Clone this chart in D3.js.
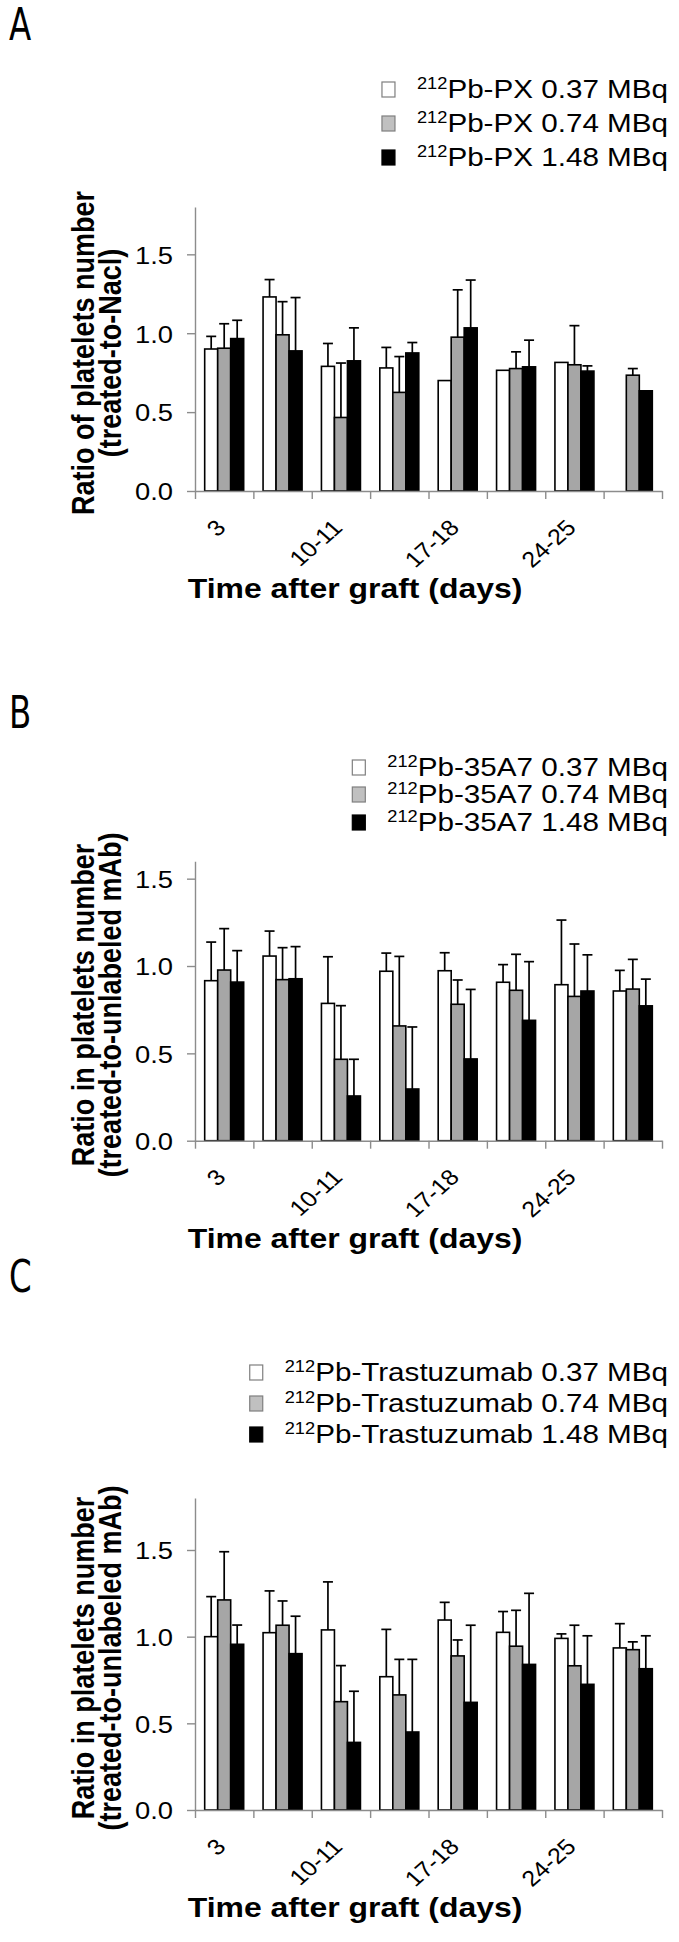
<!DOCTYPE html>
<html>
<head>
<meta charset="utf-8">
<script src="https://cdn.jsdelivr.net/npm/d3@7"></script>
<style>
  html, body { margin: 0; padding: 0; background: #fff; }
  svg { display: block; }
</style>
</head>
<body>
<div id="chart"></div>
<script>
// platelets ratio, three panels (PX, 35A7, Trastuzumab)

const timeLabels = ["3", "", "10-11", "", "17-18", "", "24-25", ""];
const doseLabels = ["0.37 MBq", "0.74 MBq", "1.48 MBq"];
const yTicks = [0, 0.5, 1.0, 1.5];

// A: 212Pb-PX, ratio treated-to-NaCl (mean, upper SD)
const pxLow = [0.90, 1.23, 0.79, 0.78, 0.70, 0.765, 0.815, null];
const pxLowSD = [0.08, 0.11, 0.145, 0.13, null, null, null, null];
const pxMid = [0.905, 0.99, 0.466, 0.625, 0.975, 0.776, 0.80, 0.734];
const pxMidSD = [0.155, 0.21, 0.345, 0.227, 0.30, 0.106, 0.248, 0.042];
const pxHigh = [0.966, 0.888, 0.825, 0.875, 1.034, 0.787, 0.76, 0.635];
const pxHighSD = [0.116, 0.338, 0.209, 0.066, 0.303, 0.169, 0.033, null];

// B: 212Pb-35A7, ratio treated-to-unlabeled mAb
const a7Low = [0.916, 1.057, 0.786, 0.97, 0.973, 0.907, 0.893, 0.857];
const a7LowSD = [0.221, 0.143, 0.267, 0.104, 0.103, 0.101, 0.37, 0.118];
const a7Mid = [0.977, 0.922, 0.466, 0.657, 0.781, 0.861, 0.826, 0.868];
const a7MidSD = [0.237, 0.183, 0.307, 0.398, 0.139, 0.206, 0.30, 0.17];
const a7High = [0.908, 0.927, 0.256, 0.296, 0.468, 0.689, 0.857, 0.772];
const a7HighSD = [0.18, 0.184, 0.21, 0.355, 0.398, 0.336, 0.207, 0.153];

// C: 212Pb-Trastuzumab, ratio treated-to-unlabeled mAb
const trLow = [1.0, 1.023, 1.039, 0.769, 1.096, 1.025, 0.99, 0.935];
const trLowSD = [0.231, 0.241, 0.277, 0.273, 0.102, 0.12, 0.026, 0.14];
const trMid = [1.212, 1.066, 0.625, 0.664, 0.889, 0.945, 0.832, 0.925];
const trMidSD = [0.278, 0.14, 0.208, 0.205, 0.092, 0.207, 0.234, 0.045];
const trHigh = [0.956, 0.902, 0.39, 0.45, 0.621, 0.84, 0.725, 0.815];
const trHighSD = [0.111, 0.216, 0.295, 0.419, 0.445, 0.41, 0.28, 0.19];

const W = 679, H = 1942;
const SX = 1.14; // text in the figure is stretched sideways
const FONT = "'Liberation Sans', Arial, sans-serif";
const barFill = ["#ffffff", "#a6a6a6", "#000000"];
const keyFill = ["#ffffff", "#c0c0c0", "#000000"];
const keyStroke = ["#7f7f7f", "#7f7f7f", "#000000"];
const axisColor = "#8c8c8c";

const panels = [
  { letter: "A", letterY: 40, agent: "PX", yMax: 1.8, y0: 491, yTop: 207,
    legendY: [89, 123, 157],
    title: ["Ratio of platelets number", "(treated-to-Nacl)"],
    series: [[pxLow, pxLowSD], [pxMid, pxMidSD], [pxHigh, pxHighSD]] },
  { letter: "B", letterY: 728, agent: "35A7", yMax: 1.6, y0: 1140.7, yTop: 861.2,
    legendY: [767, 794, 822],
    title: ["Ratio in platelets number", "(treated-to-unlabeled mAb)"],
    series: [[a7Low, a7LowSD], [a7Mid, a7MidSD], [a7High, a7HighSD]] },
  { letter: "C", letterY: 1292, agent: "Trastuzumab", yMax: 1.8, y0: 1810, yTop: 1498,
    legendY: [1372, 1403, 1434],
    title: ["Ratio in platelets number", "(treated-to-unlabeled mAb)"],
    series: [[trLow, trLowSD], [trMid, trMidSD], [trHigh, trHighSD]] }
];

const svg = d3.select("#chart").append("svg")
  .attr("width", W).attr("height", H)
  .style("font-family", FONT);

function drawPanel(p) {
  const g = svg.append("g");
  const xLeft = 195, xRight = 662;

  const y = d3.scaleLinear().domain([0, p.yMax]).range([p.y0, p.yTop]);
  const x = d3.scaleBand().domain(d3.range(timeLabels.length))
    .range([xLeft, xRight]).paddingInner(0.332).paddingOuter(0.166);
  const xs = d3.scaleBand().domain([0, 1, 2]).range([0, x.bandwidth()]);
  const xEdge = d3.scaleLinear().domain([0, timeLabels.length]).range([xLeft, xRight]);

  // panel letter
  g.append("text")
    .attr("transform", `translate(9,${p.letterY}) scale(0.82,1)`)
    .style("font-family", "'Liberation Sans Narrow', 'DejaVu Sans Condensed', sans-serif")
    .style("font-size", "44px")
    .text(p.letter);

  // bars
  p.series.forEach(([vals, sds], s) => {
    const bars = vals.map((v, i) => ({ i, v, sd: sds[i] })).filter(d => d.v != null);
    g.append("g").selectAll("rect").data(bars).join("rect")
      .attr("x", d => x(d.i) + xs(s))
      .attr("y", d => y(d.v))
      .attr("width", xs.bandwidth())
      .attr("height", d => y(0) - y(d.v))
      .attr("fill", barFill[s])
      .attr("stroke", "#000")
      .attr("stroke-width", 1.6);

    const errs = bars.filter(d => d.sd != null);
    const eg = g.append("g").attr("stroke", "#000").attr("stroke-width", 1.7);
    eg.selectAll("line.v").data(errs).join("line").attr("class", "v")
      .attr("x1", d => x(d.i) + xs(s) + xs.bandwidth() / 2)
      .attr("x2", d => x(d.i) + xs(s) + xs.bandwidth() / 2)
      .attr("y1", d => y(d.v))
      .attr("y2", d => y(d.v + d.sd));
    eg.selectAll("line.c").data(errs).join("line").attr("class", "c")
      .attr("x1", d => x(d.i) + xs(s) + xs.bandwidth() / 2 - 5)
      .attr("x2", d => x(d.i) + xs(s) + xs.bandwidth() / 2 + 5)
      .attr("y1", d => y(d.v + d.sd))
      .attr("y2", d => y(d.v + d.sd));
  });

  // y axis
  const ya = g.append("g").attr("transform", `translate(${xLeft},0)`)
    .call(d3.axisLeft(y).tickValues(yTicks).tickSize(8).tickSizeOuter(0)
      .tickFormat(d3.format(".1f")));
  ya.select(".domain").attr("stroke", axisColor).attr("stroke-width", 1.4);
  ya.selectAll(".tick line").attr("stroke", axisColor).attr("stroke-width", 1.4);
  ya.selectAll(".tick text")
    .attr("x", null).attr("dy", null)
    .attr("text-anchor", "end")
    .attr("transform", `translate(-22,8.8) scale(${SX},1)`)
    .style("font-family", FONT).style("font-size", "24px").attr("fill", "#000");

  // x axis: ticks between categories
  const xa = g.append("g").attr("transform", `translate(0,${p.y0})`)
    .call(d3.axisBottom(xEdge).ticks(timeLabels.length).tickSize(8).tickSizeOuter(0).tickFormat(""));
  xa.select(".domain").attr("stroke", axisColor).attr("stroke-width", 1.4);
  xa.selectAll(".tick line").attr("stroke", axisColor).attr("stroke-width", 1.4);

  const xl = g.append("g").attr("transform", `translate(0,${p.y0})`)
    .call(d3.axisBottom(x).tickSize(0).tickFormat(i => timeLabels[i]));
  xl.select(".domain").remove();
  xl.selectAll(".tick text")
    .attr("y", null).attr("dy", null)
    .attr("text-anchor", "end")
    .attr("transform", `translate(3,38) scale(${SX},1) rotate(-45)`)
    .style("font-family", FONT).style("font-size", "22px").attr("fill", "#000");

  // axis titles
  g.append("text")
    .attr("text-anchor", "middle")
    .attr("transform", `translate(355,${p.y0 + 107}) scale(${SX},1)`)
    .style("font-size", "28px").style("font-weight", "bold")
    .text("Time after graft (days)");

  const cy = (p.y0 + p.yTop) / 2 + 4;
  p.title.forEach((t, k) => {
    g.append("text")
      .attr("text-anchor", "middle")
      .attr("transform", `translate(${94 + k * 27},${cy}) scale(${SX},1) rotate(-90)`)
      .style("font-size", "27px").style("font-weight", "bold")
      .text(t);
  });

  // legend
  p.legendY.forEach((ly, s) => {
    const t = g.append("text")
      .attr("text-anchor", "end")
      .attr("transform", `translate(668,${ly + 9.3}) scale(${SX},1)`)
      .style("font-size", "26px");
    t.append("tspan").attr("dy", -9).style("font-size", "16px").text("212");
    t.append("tspan").attr("dy", 9).text(`Pb-${p.agent} ${doseLabels[s]}`);
    const w = t.node().getComputedTextLength() * SX;
    g.append("rect")
      .attr("x", 668 - w - 22 - 13)
      .attr("y", ly - 7)
      .attr("width", 13).attr("height", 15)
      .attr("fill", keyFill[s])
      .attr("stroke", keyStroke[s]).attr("stroke-width", 1.2);
  });
}

panels.forEach(drawPanel);
</script>
</body>
</html>
